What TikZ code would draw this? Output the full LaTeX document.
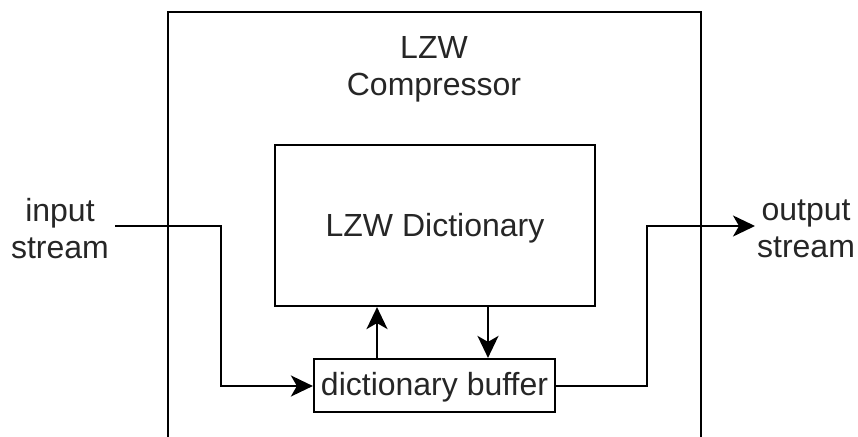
\documentclass[tikz,border=0pt]{standalone}
\usepackage{fontspec}
\setmainfont{Liberation Sans}
\usetikzlibrary{arrows.meta}
\begin{document}
\begin{tikzpicture}[x=1pt,y=-1pt,
  line width=2.2pt,
  lbl/.style={font=\fontsize{32}{37}\selectfont, align=center, text=black!85, inner sep=0pt},
  flowtip/.style={-{Stealth[length=22pt,width=21pt,inset=6pt]}},
  box/.style={draw, line width=2.2pt}]
\useasboundingbox (0,0) rectangle (858,436);
\begin{scope}
\clip (0,0) rectangle (858,436);
% outer compressor frame (runs past the lower edge)
\draw[box] (168,12) rectangle (701,460);
\end{scope}
\node[lbl] (title) at (434,69) {LZW\\Compressor};
\node[box, minimum width=320pt, minimum height=161pt, inner sep=0pt] (dict) at (435,225.5) {};
\node[lbl] (dictlbl) at (435,228) {LZW Dictionary};
\node[box, minimum width=241pt, minimum height=53pt, inner sep=0pt] (buf) at (434.5,385.5) {};
\node[lbl] (buflbl) at (434.5,387) {dictionary buffer};
\node[lbl] (in) at (60,229) {input\\stream};
\node[lbl] (out) at (806,229) {output\\stream};
\coordinate (inS) at (115,226);
\coordinate (outE) at (755,226);
% data paths
\draw[flowtip] (inS) -- (221,226) -- (221,386) -- (buf.west |- 0,386);
\draw[flowtip] (buf.east |- 0,386) -- (647,386) -- (647,226) -- (outE);
\draw[flowtip] (377,359) -- (dict.south -| 377,0);
\draw[flowtip] (488,306) -- (buf.north -| 488,0);
\end{tikzpicture}
\end{document}
